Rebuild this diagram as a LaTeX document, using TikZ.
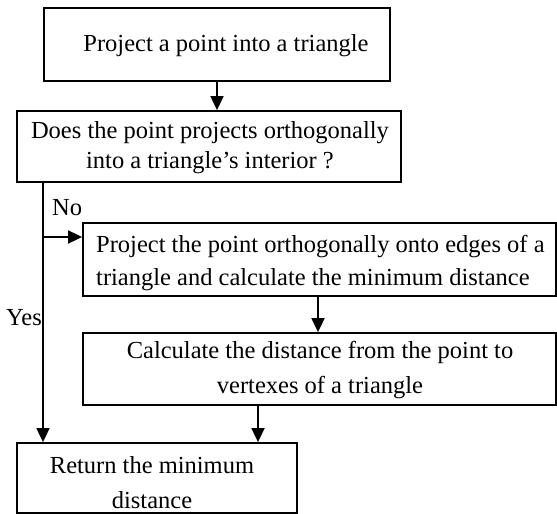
\documentclass[tikz,border=0pt]{standalone}
\usepackage{fontspec}
\setmainfont{Liberation Serif}
\usetikzlibrary{arrows.meta}
\begin{document}
\begin{tikzpicture}[x=1pt,y=-1pt,
  box/.style={draw, line width=1.8pt, inner sep=0pt},
  txt/.style={font=\fontsize{24.5}{35}\selectfont, inner sep=0pt, align=center},
  lbl/.style={font=\fontsize{24.5}{28}\selectfont, inner sep=0pt},
  arr/.style={line width=1.8pt, -{Triangle[width=13pt,length=14pt]}}]
\useasboundingbox (0,0) rectangle (557,514);
% boxes
\node[box, minimum width=346pt, minimum height=73pt] (b1) at (217,44.5) {};
\node[box, minimum width=384pt, minimum height=71pt] (b2) at (209,146.5) {};
\node[box, minimum width=473pt, minimum height=73pt] (b3) at (319.5,259.5) {};
\node[box, minimum width=473pt, minimum height=72pt] (b4) at (319.5,369) {};
\node[box, minimum width=280pt, minimum height=70pt] (b5) at (157,478) {};
% texts
\node[txt] (t1) at (226,46) {Project a point into a triangle};
\node[txt, font=\fontsize{24.5}{30}\selectfont] (t2) at (210,148) {Does the point projects orthogonally\\into a triangle’s interior ?};
\node[txt, align=left, anchor=west, font=\fontsize{24.5}{33}\selectfont] (t3) at (96,263.5) {Project the point orthogonally onto edges of a\\triangle and calculate the minimum distance};
\node[txt] (t4) at (320,370.5) {Calculate the distance from the point to\\vertexes of a triangle};
\node[txt] (t5) at (152,482.5) {Return the minimum\\distance};
\node[lbl, anchor=west] (no) at (52,208) {No};
\node[lbl, anchor=west] (yes) at (6,318) {Yes};
% connector helpers
\coordinate (c1) at (217,0);
\coordinate (cl) at (43,0);
\coordinate (ch) at (43,237);
\coordinate (c3) at (318,0);
\coordinate (c4) at (258,0);
% connectors
\draw[arr] (b1.south -| c1) -- (b2.north -| c1);
\draw[arr] (b2.south -| cl) -- (b5.north -| cl);
\draw[arr] (ch) -- (ch -| b3.west);
\draw[arr] (b3.south -| c3) -- (b4.north -| c3);
\draw[arr] (b4.south -| c4) -- (b5.north -| c4);
\end{tikzpicture}
\end{document}
